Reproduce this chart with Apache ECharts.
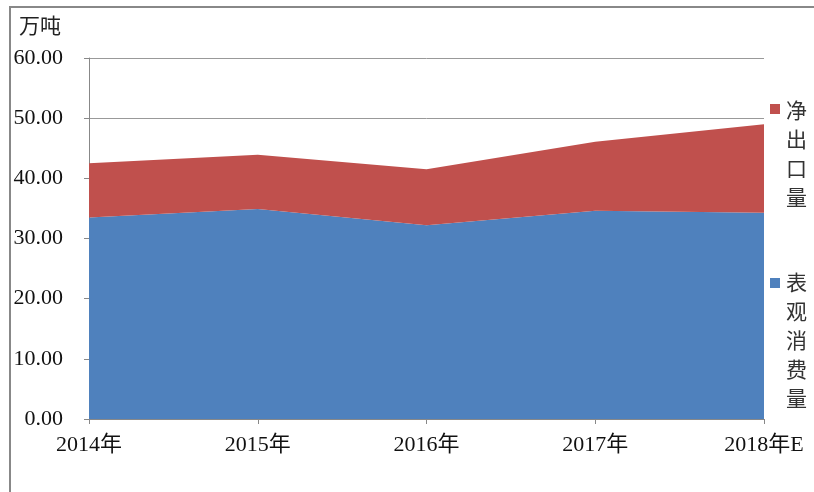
<!DOCTYPE html>
<html>
<head>
<meta charset="utf-8">
<script src="https://cdn.jsdelivr.net/npm/echarts@6/dist/echarts.min.js"></script>
<style>html,body{margin:0;padding:0;background:#fff;}#c{width:814px;height:492px;}</style>
</head>
<body>
<div id="c"></div>
<script>
const categories = ['2014年', '2015年', '2016年', '2017年', '2018年E'];
const consumption = [33.5, 34.9, 32.2, 34.6, 34.3];
const netExport = [9.0, 9.0, 9.3, 11.5, 14.7];
const yTicks = [0, 10, 20, 30, 40, 50, 60];
const seriesNames = ['表观消费量', '净出口量'];
const unitLabel = '万吨';

const serif = '"Times New Roman", "Liberation Serif", "Noto Sans CJK SC", serif';
const cjk = '"Noto Sans CJK SC", sans-serif';
const chart = echarts.init(document.getElementById('c'), null, {renderer: 'canvas'});

function vertical(s) { return s.split('').join('\n'); }

chart.setOption({
  animation: false,
  color: ['#4F81BD', '#C0504D'],
  grid: {left: 89, top: 58, right: 50, bottom: 73},
  graphic: [
    {type: 'rect', shape: {x: 10, y: 7, width: 820, height: 500}, style: {fill: 'none', stroke: '#888', lineWidth: 2}, silent: true},
    {type: 'text', left: 19, top: 15, style: {text: unitLabel, font: '21px ' + cjk, fill: '#222'}},
    {type: 'text', left: 786, top: 96, style: {text: vertical(seriesNames[1]), font: '21px ' + cjk, lineHeight: 29, fill: '#333'}},
    {type: 'text', left: 786, top: 268, style: {text: vertical(seriesNames[0]), font: '21px ' + cjk, lineHeight: 29, fill: '#333'}}
  ],
  legend: [
    {data: [seriesNames[1]], left: 770, top: 104, padding: 0, itemWidth: 10, itemHeight: 10, icon: 'rect', formatter: () => '', itemGap: 0, selectedMode: false},
    {data: [seriesNames[0]], left: 770, top: 278, padding: 0, itemWidth: 10, itemHeight: 10, icon: 'rect', formatter: () => '', itemGap: 0, selectedMode: false}
  ],
  xAxis: {
    type: 'category',
    data: categories,
    boundaryGap: false,
    axisLine: {lineStyle: {color: '#888', width: 1}},
    axisTick: {show: true, length: 5, lineStyle: {color: '#888'}},
    axisLabel: {fontFamily: serif, fontSize: 22, color: '#111', margin: 15}
  },
  yAxis: {
    type: 'value',
    min: yTicks[0],
    max: yTicks[yTicks.length - 1],
    interval: 10,
    axisLine: {show: true, lineStyle: {color: '#888', width: 1}},
    axisTick: {show: true, length: 5, lineStyle: {color: '#888'}},
    splitLine: {show: true, lineStyle: {color: '#999', width: 1}},
    axisLabel: {fontFamily: serif, fontSize: 22, color: '#111', margin: 26, formatter: v => v.toFixed(2)}
  },
  series: [
    {name: seriesNames[0], type: 'line', stack: 'total', data: consumption, symbol: 'none', lineStyle: {width: 0}, areaStyle: {color: '#4F81BD', opacity: 1}},
    {name: seriesNames[1], type: 'line', stack: 'total', data: netExport, symbol: 'none', lineStyle: {width: 0}, areaStyle: {color: '#C0504D', opacity: 1}}
  ]
});
</script>
</body>
</html>
